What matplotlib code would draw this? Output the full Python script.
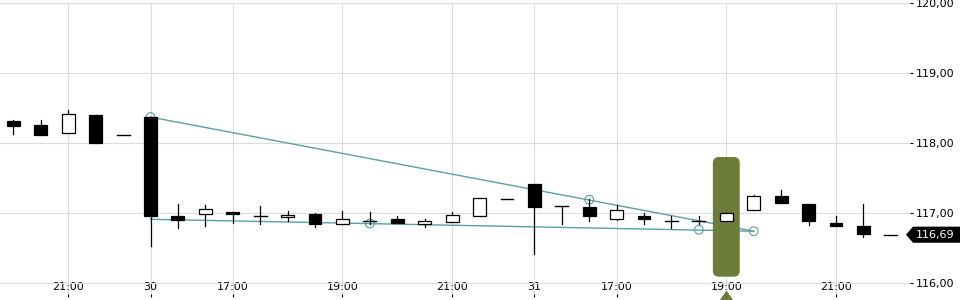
import matplotlib
matplotlib.use("Agg")
import matplotlib.pyplot as plt
from matplotlib.patches import Rectangle, FancyBboxPatch, Polygon
from matplotlib.transforms import blended_transform_factory

# candle data, one candle per 30 minutes
opens  = [118.31, 118.26, 118.15, 118.40, 118.12, 118.37, 116.96, 116.99, 117.01, 116.95,
          116.94, 116.99, 116.85, 116.88, 116.92, 116.84, 116.87, 116.95, 117.20, 117.41,
          117.10, 117.08, 116.91, 116.96, 116.88, 116.88, 116.89, 117.05, 117.24, 117.13,
          116.86, 116.81, 116.69]
highs  = [118.33, 118.33, 118.47, 118.40, 118.12, 118.37, 117.13, 117.11, 117.02, 117.10,
          117.03, 117.00, 117.03, 117.01, 116.95, 116.92, 117.01, 117.22, 117.20, 117.41,
          117.10, 117.20, 117.12, 117.00, 116.95, 116.95, 117.00, 117.26, 117.33, 117.13,
          116.96, 117.13, 116.69]
lows   = [118.13, 118.12, 118.15, 118.00, 118.12, 116.53, 116.78, 116.81, 116.86, 116.84,
          116.89, 116.80, 116.85, 116.84, 116.86, 116.80, 116.87, 116.95, 117.20, 116.42,
          116.84, 116.88, 116.90, 116.85, 116.78, 116.84, 116.88, 117.05, 117.14, 116.83,
          116.81, 116.66, 116.69]
closes = [118.25, 118.12, 118.41, 118.00, 118.12, 116.95, 116.90, 117.06, 116.99, 116.95,
          116.97, 116.85, 116.92, 116.88, 116.86, 116.88, 116.97, 117.21, 117.20, 117.09,
          117.10, 116.96, 117.04, 116.91, 116.88, 116.88, 117.00, 117.24, 117.15, 116.88,
          116.81, 116.70, 116.69]

tick_idx = [2, 5, 8, 12, 16, 19, 22, 26, 30]
tick_labels = ["21:00", "30", "17:00", "19:00", "21:00", "31", "17:00", "19:00", "21:00"]
y_ticks = [116, 117, 118, 119, 120]

# triangle drawing (trend lines) and its anchor points
upper_line = ([5, 27], [118.37, 116.74])
lower_line = ([5, 27], [116.91, 116.74])
pivot_x = [5, 13, 21, 25, 27]
pivot_y = [118.37, 116.85, 117.19, 116.76, 116.74]

highlight_idx = 26
highlight_lo, highlight_hi = 116.09, 117.80
last_price = 116.69

teal = "#5b9fa6"
olive = "#6b7d38"

fig = plt.figure(figsize=(9.6, 3.0), dpi=100)
ax = fig.add_axes([0, 3 / 300, 910 / 960, 294 / 300])
ax.set_xlim(-0.49, 32.7)
ax.set_ylim(115.8, 120)

for s in ax.spines.values():
    s.set_visible(False)

ax.set_xticks(tick_idx)
ax.set_xticklabels(tick_labels)
ax.set_yticks(y_ticks)
ax.set_yticklabels([f"{v:.2f}".replace(".", ",") for v in y_ticks])
ax.yaxis.tick_right()
ax.tick_params(axis="x", direction="in", length=2.2, width=0.8, pad=-11, labelsize=8)
ax.tick_params(axis="y", direction="out", length=2.2, width=0.8, pad=2, labelsize=8)
ax.grid(True, color="#dcdcdc", linewidth=0.8, zorder=0)
ax.set_axisbelow(True)

# trend lines + pivot circles (under the highlight and candles)
ax.plot(*upper_line, color=teal, lw=1.0, zorder=2)
ax.plot(*lower_line, color=teal, lw=1.0, zorder=2)
ax.scatter(pivot_x, pivot_y, s=40, facecolors="none", edgecolors=teal, linewidths=0.8, zorder=2)

# highlighted candle
w = 0.98
hl = FancyBboxPatch((highlight_idx - w / 2, highlight_lo), w, highlight_hi - highlight_lo,
                    boxstyle="round,pad=0,rounding_size=0.22", mutation_aspect=0.39,
                    facecolor=olive, edgecolor="none", zorder=3)
ax.add_patch(hl)
ax.plot([highlight_idx], [115.786], marker=[(-1.4, -1), (1.4, -1), (0, 1)], ms=16,
        color=olive, mew=0, clip_on=False, zorder=3)

# candles
body_w = 0.47
for i, (o, h, l, c) in enumerate(zip(opens, highs, lows, closes)):
    ax.plot([i, i], [l, h], color="black", lw=0.9, zorder=4)
    lo, hi = min(o, c), max(o, c)
    if hi - lo < 0.015:
        ax.plot([i - body_w / 2, i + body_w / 2], [o, o], color="black", lw=1.0, zorder=5)
    else:
        face = "white" if c > o else "black"
        ax.add_patch(Rectangle((i - body_w / 2, lo), body_w, hi - lo, facecolor=face,
                               edgecolor="black", linewidth=0.9, zorder=5))

# last price flag on the right
tr = blended_transform_factory(fig.transFigure, ax.transData)
hh = 0.115
flag = Polygon([(906 / 960, last_price), (913 / 960, last_price + hh), (1.0, last_price + hh),
                (1.0, last_price - hh), (913 / 960, last_price - hh)],
               closed=True, facecolor="black", edgecolor="none", transform=tr, clip_on=False, zorder=6)
fig.add_artist(flag)
fig.text(935 / 960, last_price, f"{last_price:.2f}".replace(".", ","), transform=tr,
         color="white", fontsize=8, ha="center", va="center", zorder=7)

fig.savefig("out.png", dpi=100)
